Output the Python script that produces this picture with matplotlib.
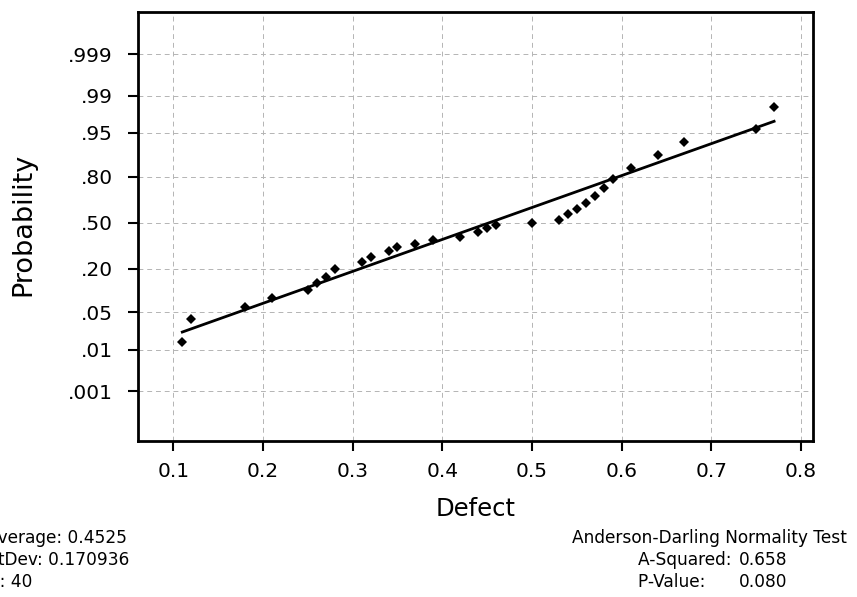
import matplotlib
matplotlib.use("Agg")
import matplotlib.pyplot as plt
from statistics import NormalDist

# ── Data ──────────────────────────────────────────────────────────
defect = [0.11, 0.12, 0.18, 0.21, 0.25, 0.26, 0.27, 0.28, 0.31, 0.32,
          0.34, 0.35, 0.37, 0.39, 0.42, 0.44, 0.45, 0.46, 0.50, 0.53,
          0.54, 0.55, 0.56, 0.57, 0.58, 0.59, 0.61, 0.64, 0.67, 0.75,
          0.77]
prob = [0.0143, 0.039, 0.0615, 0.0842, 0.109, 0.135, 0.160, 0.199, 0.236, 0.266,
        0.303, 0.329, 0.349, 0.376, 0.397, 0.433, 0.462, 0.484, 0.498, 0.520,
        0.564, 0.600, 0.642, 0.688, 0.738, 0.789, 0.842, 0.893, 0.931, 0.957,
        0.983]

prob_ticks = [0.001, 0.01, 0.05, 0.20, 0.50, 0.80, 0.95, 0.99, 0.999]
prob_labels = [".001", ".01", ".05", ".20", ".50", ".80", ".95", ".99", ".999"]
x_ticks = [0.1, 0.2, 0.3, 0.4, 0.5, 0.6, 0.7, 0.8]

average = 0.4525
stdev = 0.170936
n_obs = 40
a_squared = 0.658
p_value = 0.080

# ── Style ─────────────────────────────────────────────────────────
plt.rcParams.update({
    "font.family": "DejaVu Sans",
    "axes.linewidth": 2.0,
    "xtick.major.width": 1.5,
    "ytick.major.width": 1.5,
})

W, H = 857, 597
fig = plt.figure(figsize=(W / 100, H / 100), dpi=100)
fig.patch.set_facecolor("white")

# axes box in pixels: left 138, right 813, top 12, bottom 441
ax = fig.add_axes([138 / W, 1 - 441 / H, (813 - 138) / W, (441 - 12) / H])

nd = NormalDist()
z = [nd.inv_cdf(p) for p in prob]

ax.plot(defect, z, "D", color="black", markersize=4.6, markeredgewidth=0, zorder=3)

# fitted normal line (from Average / StDev)
x_fit = [min(defect), max(defect)]
z_fit = [(v - average) / stdev for v in x_fit]
ax.plot(x_fit, z_fit, color="black", lw=2.0, zorder=2)

ax.set_xlim(0.0606, 0.8134)
ax.set_ylim(-4.0, 3.86)

ax.set_xticks(x_ticks)
ax.set_xticklabels([f"{v:.1f}" for v in x_ticks])
ax.set_yticks([nd.inv_cdf(p) for p in prob_ticks])
ax.set_yticklabels(prob_labels)
ax.tick_params(axis="both", direction="out", length=7, labelsize=14.5)
ax.tick_params(axis="y", pad=11)
ax.tick_params(axis="x", pad=8)

ax.grid(True, color="#b4b4b4", lw=0.7, ls=(0, (5, 4)))
ax.set_axisbelow(True)

ax.set_xlabel("Defect", fontsize=17.5, va="center")
ax.xaxis.set_label_coords(0.5, (441 - 509) / (441 - 12))
ax.set_ylabel("Probability", fontsize=19.5, va="center")
ax.yaxis.set_label_coords((23 - 138) / (813 - 138), (441 - 224) / (441 - 12))

# ── Summary text under the plot (left block is cut at the edge, as in the source) ──
def px(x, y):
    return x / W, 1 - y / H

fs = 12.25
for y, s in [(538, f"Average: {average}"),
             (560, f"StDev: {stdev}"),
             (582, f"N: {n_obs}")]:
    fig.text(*px(-13, y), s, fontsize=fs, ha="left", va="center")

fig.text(*px(572, 538), "Anderson-Darling Normality Test", fontsize=fs,
         ha="left", va="center")
fig.text(*px(638, 560), "A-Squared: ", fontsize=fs, ha="left", va="center")
fig.text(*px(787, 560), f"{a_squared:.3f}", fontsize=fs, ha="right", va="center")
fig.text(*px(638, 582), "P-Value: ", fontsize=fs, ha="left", va="center")
fig.text(*px(787, 582), f"{p_value:.3f}", fontsize=fs, ha="right", va="center")

fig.savefig("out.png", dpi=100)
